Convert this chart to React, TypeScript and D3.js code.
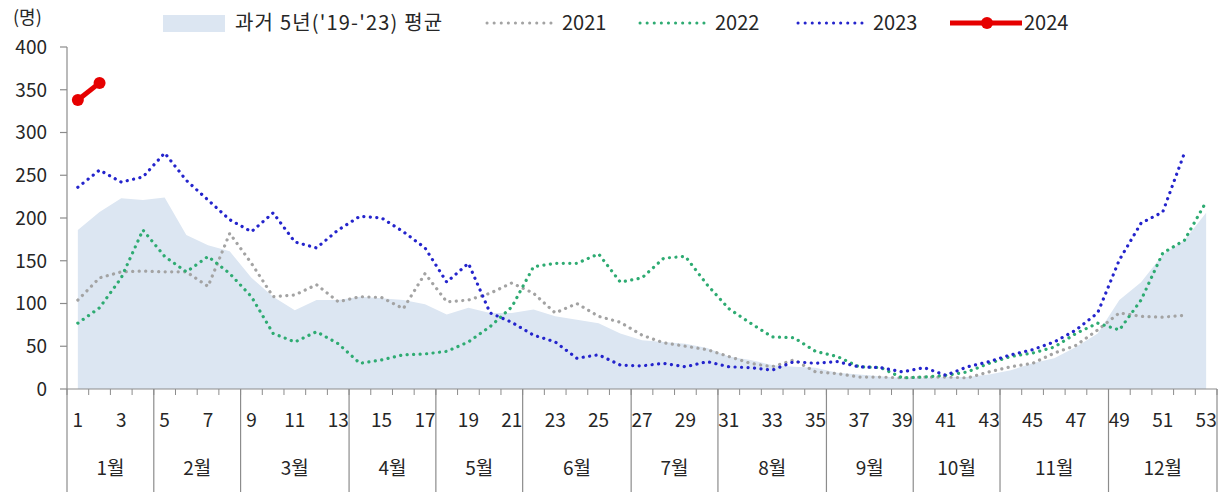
import * as React from 'react';
import * as d3 from 'd3';

const weeks: number[] = d3.range(1, 54);

const avg5y = [186, 207, 223, 221, 224, 180, 168, 161, 130, 108, 92, 104, 104, 108, 106, 104, 99, 87, 95, 89, 89, 93, 85, 81, 77, 65, 57, 55, 53, 48, 38, 34, 28, 26, 25, 19, 17, 15, 13, 13, 14, 14, 17, 22, 30, 36, 49, 65, 104, 125, 157, 174, 206];
const y2021 = [104, 130, 137, 138, 137, 137, 120, 182, 147, 108, 110, 122, 102, 108, 107, 94, 135, 102, 104, 112, 124, 112, 89, 100, 85, 78, 63, 54, 50, 46, 38, 30, 26, 34, 20, 18, 14, 14, 13, 14, 14, 13, 20, 26, 30, 42, 51, 69, 89, 85, 84, 86];
const y2022 = [77, 95, 130, 186, 155, 137, 155, 135, 108, 65, 55, 67, 53, 30, 34, 40, 41, 44, 55, 73, 96, 143, 147, 147, 158, 125, 130, 153, 155, 122, 94, 77, 61, 60, 44, 38, 26, 25, 13, 14, 16, 20, 30, 38, 42, 49, 65, 77, 69, 104, 159, 174, 219];
const y2023 = [236, 256, 242, 248, 276, 244, 221, 198, 184, 206, 172, 165, 186, 202, 200, 184, 165, 125, 147, 89, 78, 63, 55, 36, 40, 28, 27, 30, 26, 32, 26, 25, 22, 32, 30, 32, 26, 25, 20, 25, 16, 26, 32, 40, 46, 55, 69, 89, 151, 194, 207, 276];
const y2024 = [338, 358];

const yTicks = [0, 50, 100, 150, 200, 250, 300, 350, 400];
const months = ['1월', '2월', '3월', '4월', '5월', '6월', '7월', '8월', '9월', '10월', '11월', '12월'];
const monthWeeks = [4, 4, 5, 4, 4, 5, 4, 5, 4, 4, 5, 5];

const W = 1223;
const H = 492;
const font = "'Noto Sans CJK KR', 'Noto Sans', sans-serif";
const axisColor = '#8c8c8c';
const textColor = '#262626';

const App = () => {
  const x = d3.scaleBand<number>().domain(weeks).range([67, 1217]).padding(0);
  const y = d3.scaleLinear().domain([0, 400]).range([389, 47]);
  const cx = (w: number) => (x(w) as number) + x.bandwidth() / 2;

  const line = d3.line<number>()
    .x((_, i) => cx(i + 1))
    .y(d => y(d));
  const area = d3.area<number>()
    .x((_, i) => cx(i + 1))
    .y0(y(0))
    .y1(d => y(d));

  // month boundaries, in weeks
  const bounds: number[] = [0];
  monthWeeks.forEach((n) => bounds.push(bounds[bounds.length - 1] + n));
  const bx = (b: number) => 67 + b * x.bandwidth();

  const dotted = (color: string) => ({
    fill: 'none',
    stroke: color,
    strokeWidth: 3.2,
    strokeDasharray: '0.1 6.4',
    strokeLinecap: 'round' as const,
  });

  const series = [
    { label: '2021', data: y2021, color: '#a3a3a3', lx: 487 },
    { label: '2022', data: y2022, color: '#2eab72', lx: 640 },
    { label: '2023', data: y2023, color: '#2424cc', lx: 798 },
  ];

  return (
    <svg width={W} height={H} style={{ position: 'absolute', left: 0, top: 0, background: '#fff' }} fontFamily={font}>
      {/* area */}
      <path d={area(avg5y) || ''} fill="#dce6f2" />

      {/* axes */}
      <line x1={67} x2={67} y1={47} y2={389} stroke={axisColor} strokeWidth={1.2} />
      {yTicks.map(t => (
        <g key={t}>
          <line x1={60} x2={67} y1={y(t)} y2={y(t)} stroke={axisColor} strokeWidth={1.2} />
          <text x={47} y={y(t)} dy="0.36em" textAnchor="end" fontSize={19} fill={textColor}>{t}</text>
        </g>
      ))}
      <line x1={67} x2={1217} y1={389} y2={389} stroke={axisColor} strokeWidth={1.2} />
      {d3.range(0, 54).map(b => (
        <line key={b} x1={bx(b)} x2={bx(b)} y1={389} y2={395} stroke={axisColor} strokeWidth={1} />
      ))}
      {bounds.map(b => (
        <line key={`m${b}`} x1={bx(b)} x2={bx(b)} y1={389} y2={492} stroke={axisColor} strokeWidth={1.2} />
      ))}
      {weeks.filter(w => w % 2 === 1).map(w => (
        <text key={w} x={cx(w)} y={420} dy="0.36em" textAnchor="middle" fontSize={19} fill={textColor}>{w}</text>
      ))}
      {months.map((m, i) => (
        <text key={m} x={(bx(bounds[i]) + bx(bounds[i + 1])) / 2} y={468} dy="0.36em" textAnchor="middle" fontSize={19} fill={textColor}>{m}</text>
      ))}

      {/* lines */}
      {series.map(s => (
        <path key={s.label} d={line(s.data) || ''} {...dotted(s.color)} />
      ))}
      <path d={line(y2024) || ''} fill="none" stroke="#e60000" strokeWidth={5} />
      {y2024.map((v, i) => (
        <circle key={i} cx={cx(i + 1)} cy={y(v)} r={6} fill="#e60000" />
      ))}

      {/* unit */}
      <text x={13} y={18} dy="0.36em" fontSize={18} fill={textColor}>(명)</text>

      {/* legend */}
      <rect x={163} y={15} width={62} height={17} fill="#dce6f2" />
      <text x={235} y={23} dy="0.36em" fontSize={20} letterSpacing={1.2} fill={textColor}>과거 5년('19-'23) 평균</text>
      {series.map(s => (
        <g key={s.label}>
          <line x1={s.lx} x2={s.lx + 65} y1={23} y2={23} {...dotted(s.color)} strokeWidth={3} strokeDasharray="0.1 7" />
          <text x={s.lx + 75} y={23} dy="0.36em" fontSize={20} fill={textColor}>{s.label}</text>
        </g>
      ))}
      <line x1={950} x2={1022} y1={23} y2={23} stroke="#e60000" strokeWidth={5} />
      <circle cx={987} cy={23} r={6} fill="#e60000" />
      <text x={1024} y={23} dy="0.36em" fontSize={20} fill={textColor}>2024</text>
    </svg>
  );
};

export default App;
